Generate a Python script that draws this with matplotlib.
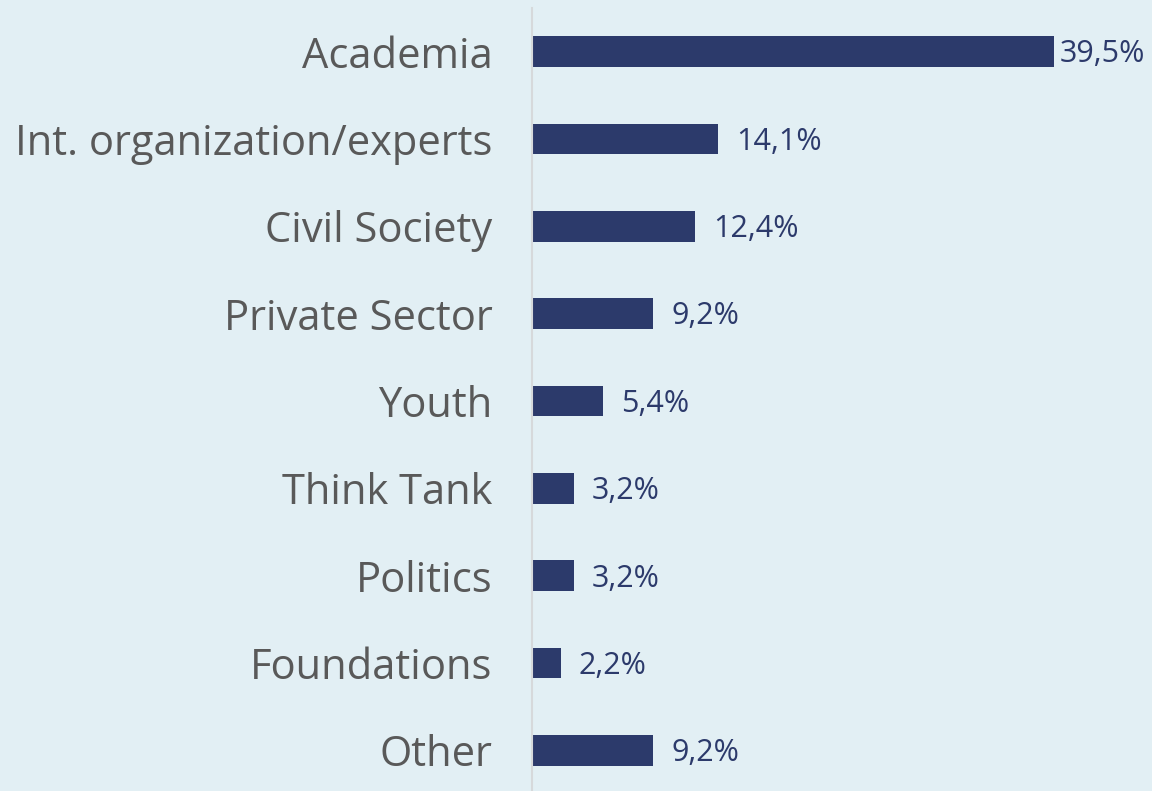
import matplotlib
matplotlib.use("Agg")
import matplotlib.pyplot as plt

categories = ["Academia", "Int. organization/experts", "Civil Society",
              "Private Sector", "Youth", "Think Tank", "Politics",
              "Foundations", "Other"]
shares = [39.5, 14.1, 12.4, 9.2, 5.4, 3.2, 3.2, 2.2, 9.2]
value_labels = ["39,5%", "14,1%", "12,4%", "9,2%", "5,4%", "3,2%", "3,2%", "2,2%", "9,2%"]

bg = "#E2EFF4"
bar_color = "#2C3A6B"

plt.rcParams["font.family"] = ["Open Sans", "DejaVu Sans"]

fig = plt.figure(figsize=(11.52, 7.91), dpi=100, facecolor=bg)
ax = fig.add_axes([531.5 / 1152, -0.004, 595 / 1152, 0.994])
ax.set_facecolor(bg)

ypos = list(range(len(categories)))
ax.barh(ypos, shares, height=0.35, color=bar_color)
ax.set_ylim(len(categories) - 0.5, -0.5)
ax.set_xlim(0, 45)

ax.set_yticks(ypos)
ax.set_yticklabels(categories, fontsize=30, color="#595959")
ax.tick_params(axis="y", length=0, pad=28)
ax.set_xticks([])

for s in ["top", "right", "bottom"]:
    ax.spines[s].set_visible(False)
ax.spines["left"].set_color("#D6D9DB")
ax.spines["left"].set_linewidth(1.5)

# labels sit just right of the bars; the longest one gets less room
top = max(shares)
for y, v, lab in zip(ypos, shares, value_labels):
    off = 4 if v == top else 13
    ax.annotate(lab, (v, y), xytext=(off, -2), textcoords="offset points",
                va="center", ha="left", fontsize=22, color=bar_color)

fig.savefig("out.png", dpi=100, facecolor=bg)
